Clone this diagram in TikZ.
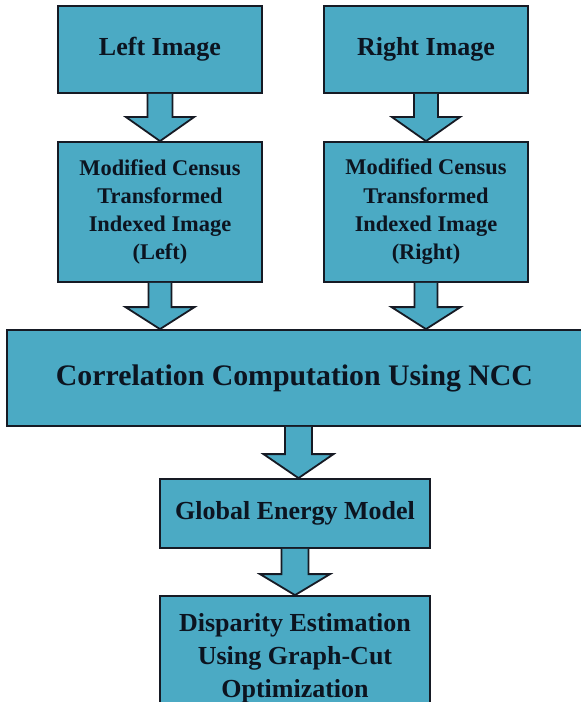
\documentclass[tikz,border=0pt]{standalone}
\usepackage{fontspec}
\setmainfont{Liberation Serif}
\usetikzlibrary{calc}
\definecolor{boxfill}{RGB}{75,170,196}
\definecolor{boxline}{RGB}{22,26,36}
\definecolor{txt}{RGB}{12,20,32}
\tikzset{
  blockbox/.style={draw=boxline, fill=boxfill, line width=1.8bp, rectangle, inner sep=0pt,
    align=center, text=txt, font=\bfseries},
  barrow/.style={draw=boxline, fill=boxfill, line width=1.8bp, line join=miter},
}
\newcommand\blkarrow[5]{% source, target, shaft half, head half, head length
  \path (#1.south) coordinate (ba) (#1.south |- #2.north) coordinate (bb);
  \draw[barrow] ($(ba)+(-#3,0)$) -- ($(bb)+(-#3,-#5)$) -- ($(bb)+(-#4,-#5)$) -- (bb)
    -- ($(bb)+(#4,-#5)$) -- ($(bb)+(#3,-#5)$) -- ($(ba)+(#3,0)$);
}
\begin{document}
\begin{tikzpicture}[x=1bp,y=-1bp]
\useasboundingbox (0,0) rectangle (581,702);
\clip (0,0) rectangle (581,702);
\fill[white] (0,0) rectangle (581,702);
\node[blockbox, minimum width=204bp, minimum height=87bp, font=\bfseries\fontsize{26bp}{31bp}\selectfont] (li) at (160,49.5) {Left Image};
\node[blockbox, minimum width=204bp, minimum height=87bp, font=\bfseries\fontsize{26bp}{31bp}\selectfont] (ri) at (426,49.5) {Right Image};
\node[blockbox, minimum width=204bp, minimum height=140bp, font=\bfseries\fontsize{22.4bp}{28.3bp}\selectfont] (lc) at (160,212) {Modified Census\\Transformed\\Indexed Image\\(Left)};
\node[blockbox, minimum width=204bp, minimum height=140bp, font=\bfseries\fontsize{22.4bp}{28.3bp}\selectfont] (rc) at (426,212) {Modified Census\\Transformed\\Indexed Image\\(Right)};
\node[blockbox, minimum width=583bp, minimum height=96bp, font=\bfseries\fontsize{29.8bp}{34bp}\selectfont] (cc) at (298.5,378) {\hspace*{-8bp}Correlation Computation Using NCC};
\node[blockbox, minimum width=270bp, minimum height=69bp, font=\bfseries\fontsize{26bp}{31bp}\selectfont] (ge) at (295,513.5) {Global Energy Model};
\node[blockbox, minimum width=270bp, minimum height=124bp, font=\bfseries\fontsize{26bp}{33bp}\selectfont] (de) at (295,658) {Disparity Estimation\\Using Graph-Cut\\Optimization};
\blkarrow{li}{lc}{12.5}{34}{24}
\blkarrow{ri}{rc}{12}{34}{24}
\blkarrow{lc}{cc}{11.5}{34.5}{22}
\blkarrow{rc}{cc}{11.5}{34.5}{22}
\blkarrow{cc}{ge}{13.5}{35}{24}
\blkarrow{ge}{de}{13.5}{35}{21}
\end{tikzpicture}
\end{document}
